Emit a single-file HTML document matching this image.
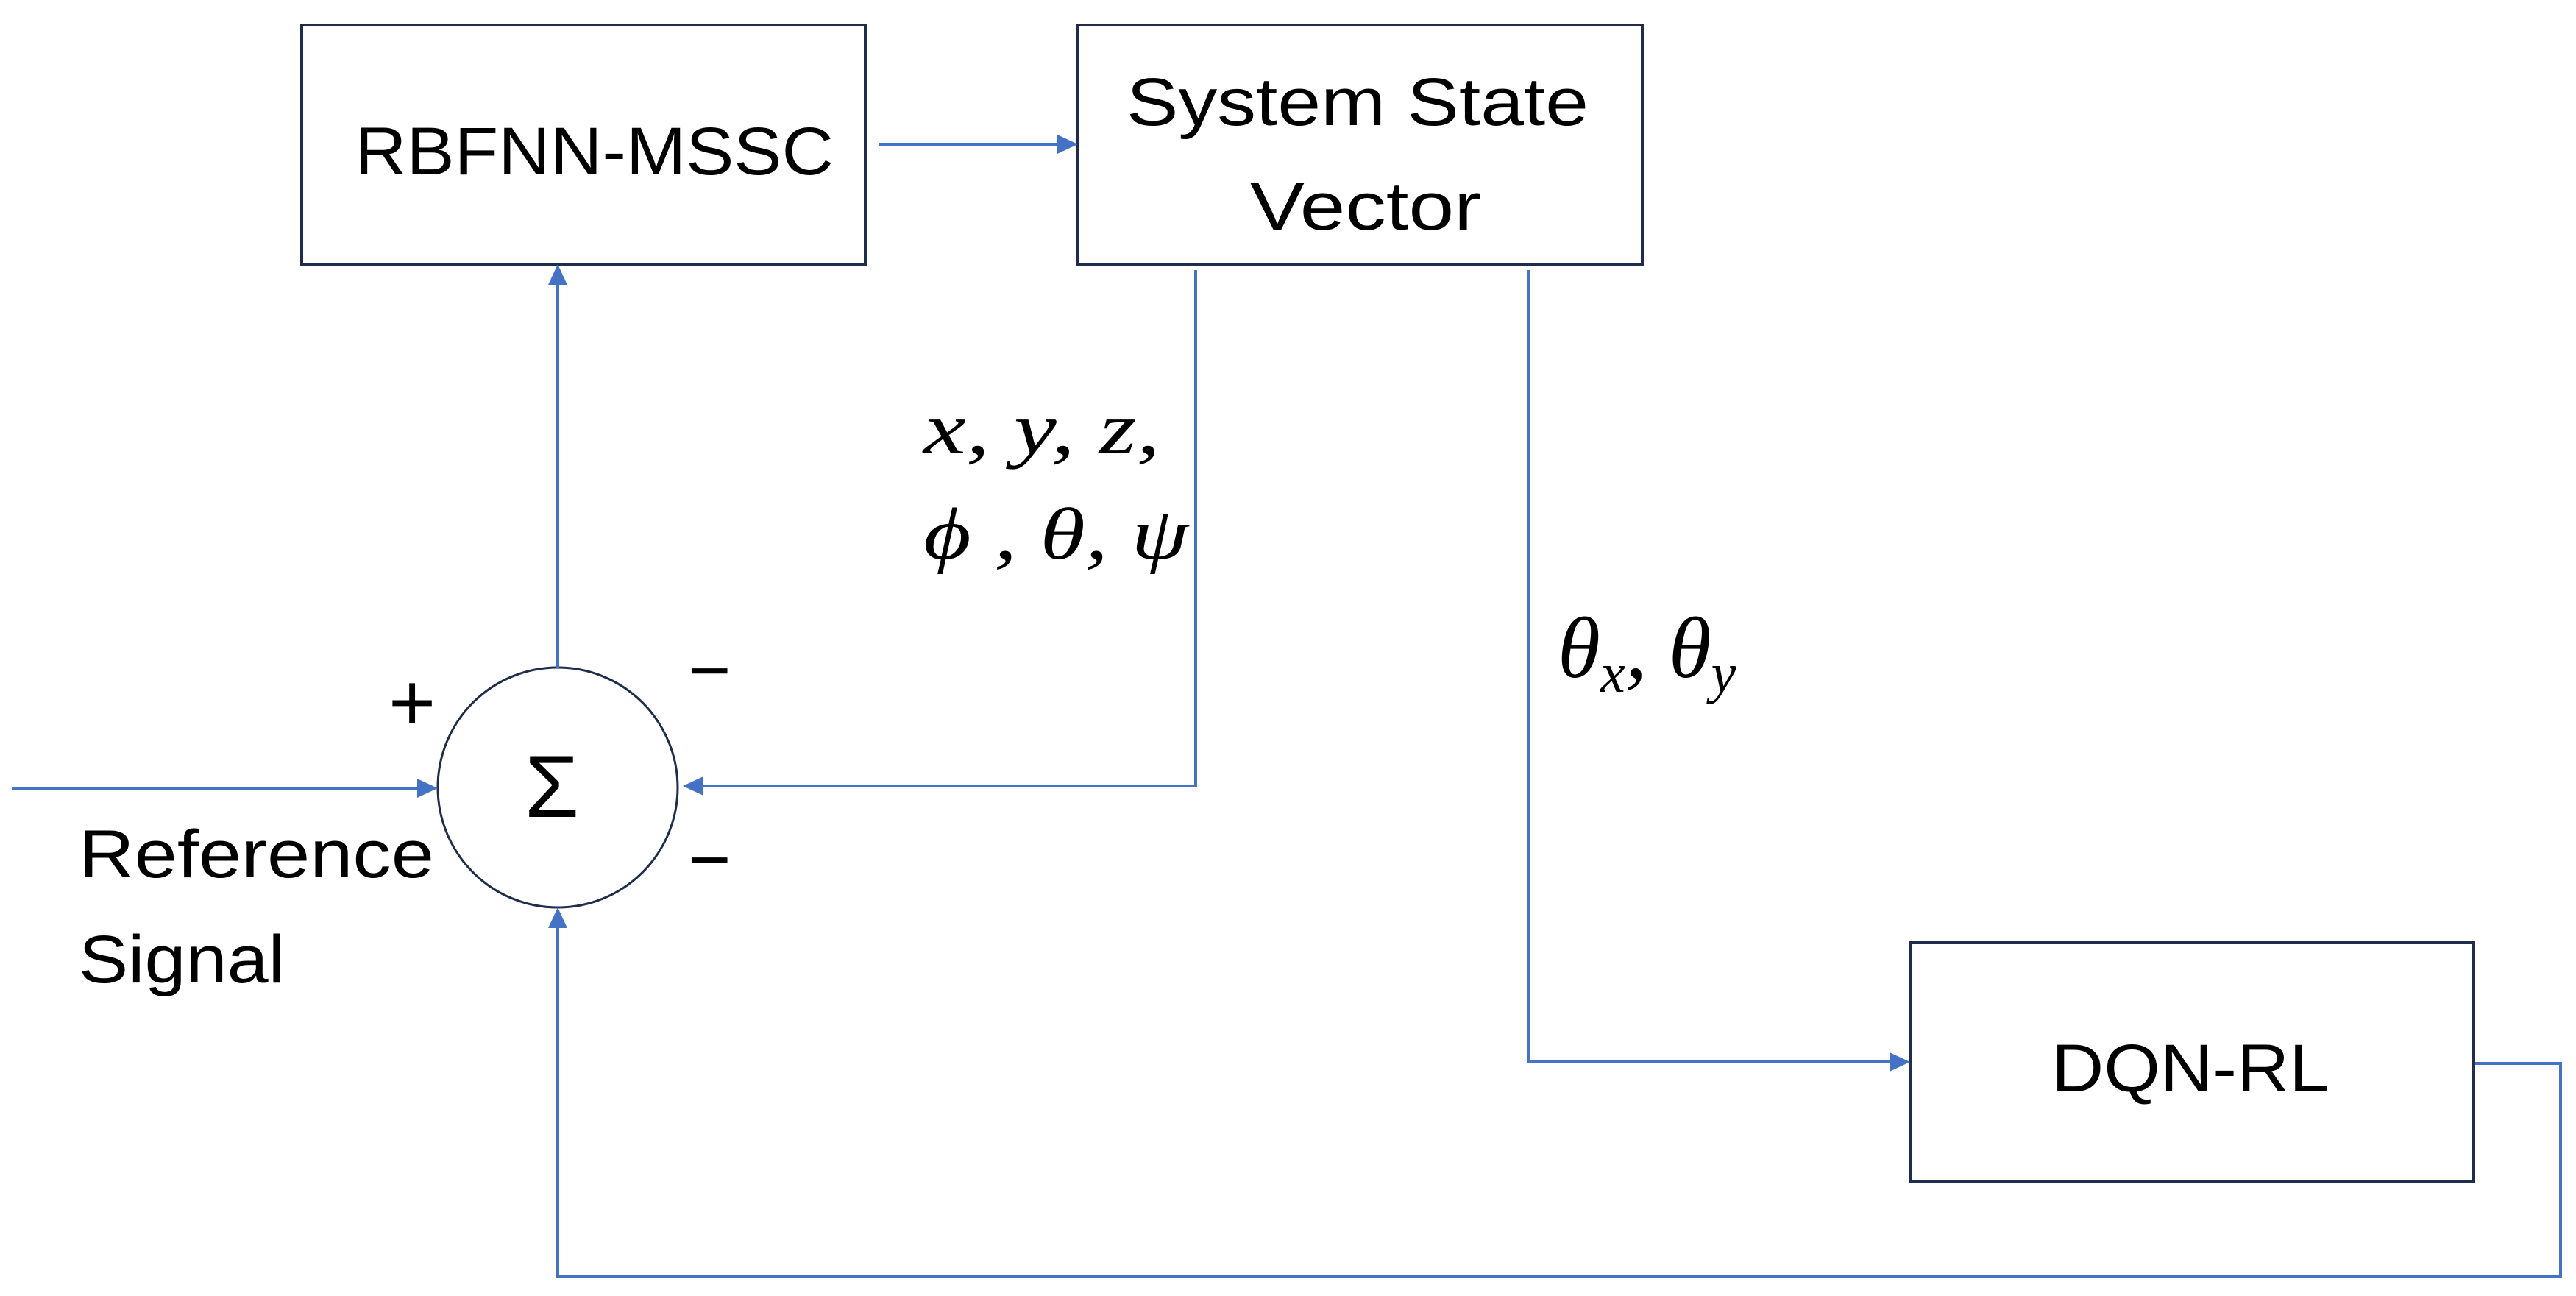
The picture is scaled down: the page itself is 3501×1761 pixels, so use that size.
<!DOCTYPE html>
<html><head><meta charset="utf-8"><style>html,body{margin:0;padding:0;background:#fff}svg{display:block}</style></head>
<body>
<svg width="3501" height="1761" viewBox="0 0 3501 1761" xmlns="http://www.w3.org/2000/svg">
<g fill="none" stroke="#1f2d4d" stroke-width="4">
<rect x="410" y="34" width="766" height="325"/>
<rect x="1465" y="34" width="767" height="325"/>
<rect x="2596" y="1281" width="766" height="324"/>
<circle cx="758" cy="1070" r="163" stroke-width="3"/>
</g>
<g fill="none" stroke="#4472c4" stroke-width="4">
<line x1="1194" y1="196" x2="1440" y2="196"/>
<line x1="758" y1="907" x2="758" y2="385"/>
<polyline points="1625,367 1625,1068 955,1068"/>
<polyline points="2078,367 2078,1443 2570,1443"/>
<polyline points="3364,1445 3480,1445 3480,1735 758,1735 758,1258"/>
<line x1="16" y1="1071" x2="568" y2="1071"/>
</g>
<g fill="#4472c4">
<polygon points="1465,196 1437,183 1437,209"/>
<polygon points="758,359 745,387 771,387"/>
<polygon points="928,1068 956,1055 956,1081"/>
<polygon points="2596,1443 2568,1430 2568,1456"/>
<polygon points="758,1233 745,1261 771,1261"/>
<polygon points="595,1071 567,1058 567,1084"/>
</g>
<g font-family="Liberation Sans, sans-serif" fill="#000" font-size="92">
<text x="482" y="237" textLength="651" lengthAdjust="spacingAndGlyphs">RBFNN-MSSC</text>
<text x="1531" y="170" textLength="628" lengthAdjust="spacingAndGlyphs">System State</text>
<text x="1699" y="312" textLength="314" lengthAdjust="spacingAndGlyphs">Vector</text>
<text x="2788" y="1483" textLength="378" lengthAdjust="spacingAndGlyphs">DQN-RL</text>
<text x="107" y="1192" textLength="483" lengthAdjust="spacingAndGlyphs">Reference</text>
<text x="107" y="1335" textLength="280" lengthAdjust="spacingAndGlyphs">Signal</text>
<text x="528" y="992" font-size="110">+</text>
<text x="935" y="945" font-size="100">−</text>
<text x="935" y="1202" font-size="100">−</text>
<text x="750" y="1110" font-size="120" text-anchor="middle">Σ</text>
</g>
<g font-family="Liberation Serif, serif" font-style="italic" fill="#000" font-size="100">
<text x="1255" y="616" textLength="322" lengthAdjust="spacingAndGlyphs">x, y, z,</text>
<text x="1255" y="759" textLength="360" lengthAdjust="spacingAndGlyphs">ϕ , θ, ψ</text>
<text x="2117" y="920" font-size="118">θ<tspan font-size="76" dy="20">x</tspan><tspan dy="-20">, θ</tspan><tspan font-size="76" dy="20">y</tspan></text>
</g>
</svg>
</body></html>
